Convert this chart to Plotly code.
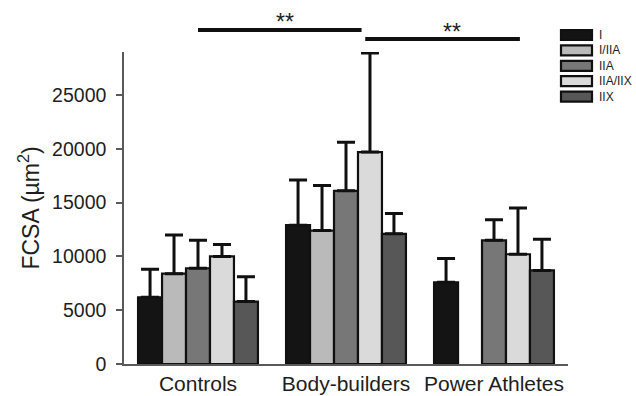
import plotly.graph_objects as go

# Groups and fibre types
groups = ["Controls", "Body-builders", "Power Athletes"]
fibre_types = ["I", "I/IIA", "IIA", "IIA/IIX", "IIX"]
fibre_colors = ["#141414", "#bababa", "#777777", "#dadada", "#575757"]

# Mean fibre cross-sectional area (µm²) per group, one list per fibre type
fcsa_I = [6200, 12900, 7600]
fcsa_I_IIA = [8400, 12400, None]
fcsa_IIA = [8900, 16100, 11500]
fcsa_IIA_IIX = [10000, 19700, 10200]
fcsa_IIX = [5800, 12100, 8700]

# Standard deviations (upper bars)
sd_I = [2600, 4200, 2200]
sd_I_IIA = [3600, 4200, None]
sd_IIA = [2600, 4500, 1900]
sd_IIA_IIX = [1100, 9200, 4300]
sd_IIX = [2300, 1900, 2900]

y_ticks = [0, 5000, 10000, 15000, 20000, 25000]
y_tick_labels = ["0", "5000", "10000", "15000", "20000", "25000"]

means = [fcsa_I, fcsa_I_IIA, fcsa_IIA, fcsa_IIA_IIX, fcsa_IIX]
sds = [sd_I, sd_I_IIA, sd_IIA, sd_IIA_IIX, sd_IIX]

W, H = 636, 396
ML, MR, MT, MB = 124, 68, 52, 32
PW, PH = W - ML - MR, H - MT - MB

FONT = "Liberation Sans, Arial, sans-serif"
INK = "#1e1e1e"
AXIS = "#5a5a5a"

fig = go.Figure()
for name, color, m, s in zip(fibre_types, fibre_colors, means, sds):
    fig.add_trace(go.Bar(
        name=name,
        x=groups,
        y=m,
        marker=dict(color=color, line=dict(color="#101010", width=2.2)),
        error_y=dict(
            type="data",
            array=[v if v is not None else 0 for v in s],
            arrayminus=[0, 0, 0],
            symmetric=False,
            color="#101010",
            thickness=3,
            width=9,
        ),
        showlegend=False,
    ))


def px_x(px):
    return (px - ML) / PW


def px_y(py):
    return (H - MB - py) / PH


shapes = []
annotations = []

# Legend: framed swatches with labels
for i, (name, color) in enumerate(zip(fibre_types, fibre_colors)):
    top = 30 + i * 15.4
    shapes.append(dict(
        type="rect", xref="paper", yref="paper",
        x0=px_x(561), x1=px_x(592), y0=px_y(top + 10), y1=px_y(top),
        fillcolor=color, line=dict(color="#101010", width=2.2),
    ))
    annotations.append(dict(
        xref="paper", yref="paper", x=px_x(597), y=px_y(top + 5),
        text=name, showarrow=False, xanchor="left", yanchor="middle",
        font=dict(family=FONT, size=12, color=INK),
    ))

# Significance brackets (above the plotting area)
for x0, x1, line_py, xs, star_py in [(0.0, 1.105, 30, 0.59, 22),
                                     (1.13, 2.175, 39, 1.715, 32)]:
    shapes.append(dict(
        type="line", xref="x", yref="paper", x0=x0, x1=x1,
        y0=px_y(line_py), y1=px_y(line_py),
        line=dict(color="#101010", width=4),
    ))
    annotations.append(dict(
        xref="x", yref="paper", x=xs, y=px_y(star_py), text="**",
        showarrow=False, xanchor="center", yanchor="middle",
        font=dict(family=FONT, size=23, color=INK),
    ))

fig.update_layout(
    width=W, height=H,
    margin=dict(l=ML, r=MR, t=MT, b=MB, pad=0, autoexpand=False),
    paper_bgcolor="white", plot_bgcolor="white",
    barmode="group", bargap=0.19, bargroupgap=0,
    font=dict(family=FONT, color=INK),
    shapes=shapes, annotations=annotations,
    showlegend=False,
)
fig.update_xaxes(
    range=[-0.5, 2.5], showline=True, linecolor=AXIS, linewidth=1.5,
    ticks="", showgrid=False, zeroline=False, automargin=False,
    ticklabelstandoff=0,
    tickfont=dict(family=FONT, size=21, color=INK),
)
fig.update_yaxes(
    range=[0, 29000], tickvals=y_ticks, ticktext=y_tick_labels,
    showline=True, linecolor=AXIS, automargin=False,
    linewidth=1.5, ticks="outside", ticklen=6, tickwidth=1.5, tickcolor=AXIS,
    showgrid=False, zeroline=False, ticklabelstandoff=6,
    tickfont=dict(family=FONT, size=19.5, color=INK),
    title=dict(text="FCSA (µm<sup>2</sup>)", standoff=6,
               font=dict(family=FONT, size=23, color=INK)),
)

fig.write_html("out.html")
